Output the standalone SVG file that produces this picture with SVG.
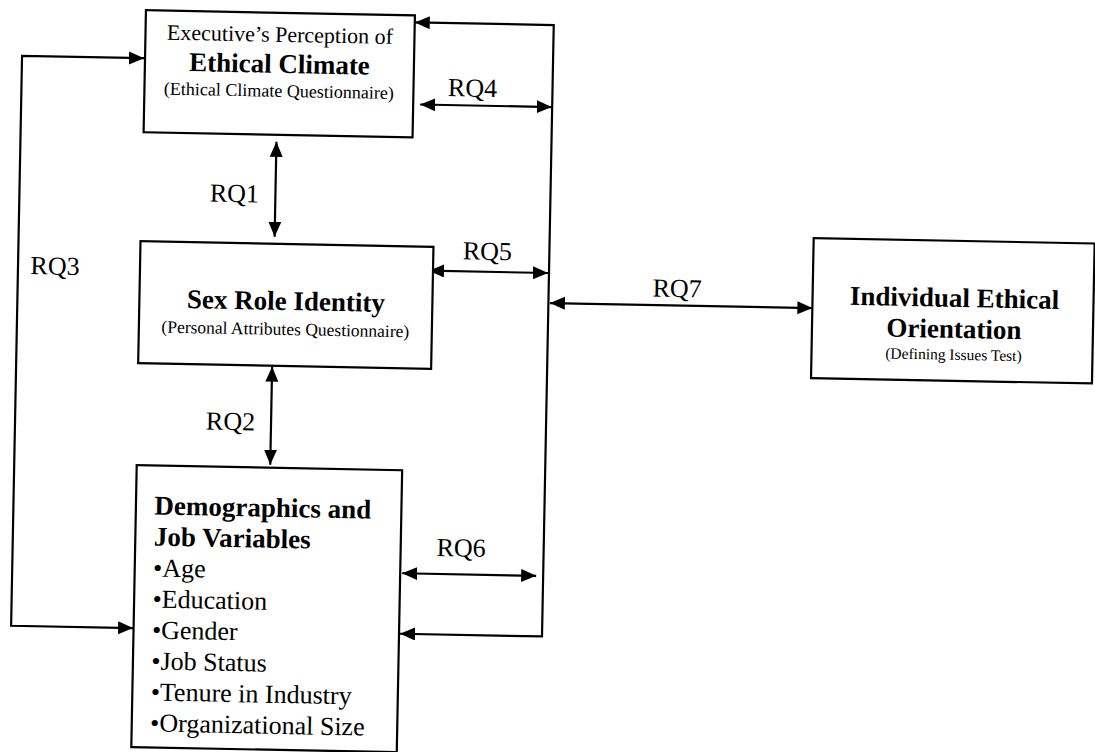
<svg xmlns="http://www.w3.org/2000/svg" width="1095" height="752" viewBox="0 0 1095 752">
  <style>
    text { font-family: "Liberation Serif", "Times New Roman", serif; fill: #000; }
    .box { fill: #fff; stroke: #000; stroke-width: 2.2; }
    .line { fill: none; stroke: #000; stroke-width: 2.2; marker-start: url(#ah); marker-end: url(#ah); }
    .rq { font-size: 26px; text-anchor: middle; }
    .hd { font-size: 27px; font-weight: bold; }
    .mid { text-anchor: middle; }
    .item { font-size: 26px; }
  </style>
  <defs>
    <marker id="ah" markerUnits="userSpaceOnUse" markerWidth="16" markerHeight="14" refX="15" refY="6.5" orient="auto-start-reverse">
      <path d="M0,0 L15,6.5 L0,13 z" fill="#000"/>
    </marker>
  </defs>
  <rect width="1095" height="752" fill="#fff"/>
  <g transform="rotate(1.1 547 376)">
    <g id="connectors">
      <path class="line" d="M408,25 L547,25 L547,636.5 L405,636.5"/>
      <path class="line" d="M138,66 L16,66 L16,636 L138,636"/>
      <path class="line" d="M272,147 L272,242"/>
      <path class="line" d="M272,372 L272,470"/>
      <path class="line" d="M415,107 L546.5,107"/>
      <path class="line" d="M427,273 L546,273"/>
      <path class="line" d="M406,576 L540,576"/>
      <path class="line" d="M548.5,303 L811,303"/>
      <text class="rq" x="231" y="208">RQ1</text>
      <text class="rq" x="231.5" y="436">RQ2</text>
      <text class="rq" x="53" y="284">RQ3</text>
      <text class="rq" x="467" y="98">RQ4</text>
      <text class="rq" x="485" y="261">RQ5</text>
      <text class="rq" x="464.5" y="558">RQ6</text>
      <text class="rq" x="675.5" y="294.5">RQ7</text>
    </g>
    <g id="ethical-climate">
      <rect class="box" x="139" y="18" width="269" height="122"/>
      <text class="mid" x="273.5" y="47" font-size="22">Executive’s Perception of</text>
      <text class="mid hd" x="273.5" y="78">Ethical Climate</text>
      <text class="mid" x="273.5" y="102" font-size="18">(Ethical Climate Questionnaire)</text>
    </g>
    <g id="sex-role-identity">
      <rect class="box" x="138" y="249" width="293" height="122"/>
      <text class="mid hd" x="284.5" y="315">Sex Role Identity</text>
      <text class="mid" x="284.5" y="340" font-size="17.5">(Personal Attributes Questionnaire)</text>
    </g>
    <g id="demographics">
      <rect class="box" x="138.5" y="473" width="265.5" height="282"/>
      <text class="hd" x="157" y="522">Demographics and</text>
      <text class="hd" x="157" y="553">Job Variables</text>
      <text class="item" x="157" y="584">•Age</text>
      <text class="item" x="157" y="615">•Education</text>
      <text class="item" x="157" y="646">•Gender</text>
      <text class="item" x="157" y="677">•Job Status</text>
      <text class="item" x="157" y="708">•Tenure in Industry</text>
      <text class="item" x="157" y="739">•Organizational Size</text>
    </g>
    <g id="ethical-orientation">
      <rect class="box" x="811" y="233" width="281" height="140"/>
      <text class="mid hd" x="953" y="299" font-size="26">Individual Ethical</text>
      <text class="mid hd" x="953" y="330" font-size="26">Orientation</text>
      <text class="mid" x="953" y="352" font-size="15.5">(Defining Issues Test)</text>
    </g>
  </g>
</svg>
